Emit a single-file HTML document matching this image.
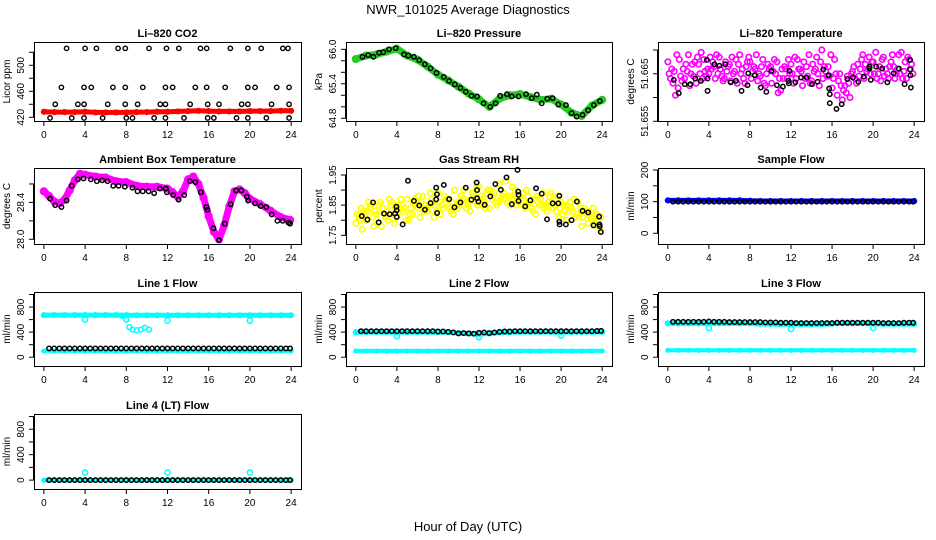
<!DOCTYPE html>
<html><head><meta charset="utf-8"><title>NWR_101025 Average Diagnostics</title>
<style>
html,body{margin:0;padding:0;background:#fff;}
svg{display:block;font-family:"Liberation Sans",Arial,sans-serif;}
</style></head>
<body>
<svg id="chart" width="936" height="540" viewBox="0 0 936 540" xmlns="http://www.w3.org/2000/svg">
<rect x="0" y="0" width="936" height="540" fill="#fff"/>
<text x="468" y="14" text-anchor="middle" font-size="13">NWR_101025  Average Diagnostics</text>
<text x="468" y="531" text-anchor="middle" font-size="13">Hour of Day (UTC)</text>
</svg>
<script>
// ---------- shared hours ----------
const blackHours = [0.5,1,1.5,2,2.5,3,3.5,4,4.5,5,5.5,6,6.5,7,7.5,8,8.5,9,9.5,10,10.5,11,11.5,12,12.5,13,13.5,14,14.5,15,15.5,16,16.5,17,17.5,18,18.5,19,19.5,20,20.5,21,21.5,22,22.5,23,23.5,23.9];
const bandHours = [0,1,2,3,4,5,6,7,8,9,10,11,12,13,14,15,16,17,18,19,20,21,22,23,24];
const cloudHours = [0,0.5,1,1.5,2,2.5,3,3.5,4,4.5,5,5.5,6,6.5,7,7.5,8,8.5,9,9.5,10,10.5,11,11.5,12,12.5,13,13.5,14,14.5,15,15.5,16,16.5,17,17.5,18,18.5,19,19.5,20,20.5,21,21.5,22,22.5,23,23.5];
const xTicks = [0,4,8,12,16,20,24];

// ---------- CO2 ----------
const co2Hours = [2.2,4.0,5.1,7.2,7.9,10.2,11.9,13.1,15.2,15.8,18.1,19.8,21.1,23.2,23.7, 1.7,3.9,4.6,6.7,7.9,9.6,11.8,12.5,14.7,15.8,17.6,19.8,20.5,22.6,23.8, 1.1,3.3,3.9,6.2,7.9,9.1,11.3,11.8,14.2,15.9,17.0,19.2,19.8,22.1,23.8, 0.6,2.7,3.9,5.7,8.0,8.6,10.7,11.8,13.6,15.9,16.5,18.7,19.8,21.6,23.8];
const co2Black = [526,526,526,526,526,526,526,526,526,526,526,526,526,526,526, 466,466,466,466,466,466,466,466,466,466,466,466,466,466,466, 440,440,440,440,440,440,440,440,440,440,440,440,440,440,440, 419,419,419,419,419,419,419,419,419,419,419,419,419,419,419];
const co2Red = [428.5,428,428,428,428.5,427.5,427.5,427.5,427.5,428,428,428.5,428.5,429,429.5,430,429.5,429,429,429,429.5,429.5,429.5,430,430];

// ---------- Pressure ----------
const presHours = [0.65,1.2,1.71,2.26,2.68,3.23,3.88,4.69,5.11,5.66,6.18,6.73,7.28,7.86,8.57,9.09,9.64,10.19,10.71,11.26,11.81,12.45,13.1,13.62,14.07,14.72,15.2,15.85,16.59,17.14,17.63,18.11,18.66,19.18,19.73,20.47,21.02,21.51,22.09,22.64,23.19,23.77];
const presBlack = [65.87,65.90,65.87,65.94,65.95,66.0,66.02,65.91,65.89,65.87,65.81,65.74,65.67,65.59,65.52,65.45,65.39,65.33,65.26,65.19,65.18,65.06,65.0,65.06,65.19,65.22,65.18,65.18,65.22,65.15,65.21,65.06,65.14,65.15,65.04,65.03,64.89,64.83,64.86,64.94,65.03,65.10];
const presGreen = [65.83,65.89,65.91,65.96,66.01,65.89,65.82,65.70,65.56,65.46,65.35,65.23,65.13,65.00,65.14,65.20,65.22,65.17,65.12,65.14,65.04,64.90,64.84,65.02,65.12];

// ---------- Li-820 Temperature ----------
const tempHours = [0.58,1.06,1.64,2.19,2.67,3.22,3.80,3.87,3.87,4.54,5.03,5.6,6.12,6.64,7.18,7.83,7.76,8.47,9.05,9.6,10.08,10.63,11.21,11.76,11.79,11.85,12.43,12.98,13.53,14.05,14.59,15.14,15.66,15.72,15.78,15.78,16.43,16.94,17.49,18.04,18.56,19.1,19.65,19.65,19.78,20.3,20.88,21.39,22.0,22.52,23.07,23.61,23.61,23.64,23.68];
const tempBlack = [51.6637,51.6609,51.6628,51.6628,51.6640,51.6635,51.6679,51.6640,51.6614,51.6670,51.6667,51.6670,51.6632,51.6635,51.6614,51.6651,51.6626,51.6647,51.6621,51.6612,51.6656,51.6626,51.6623,51.6635,51.6630,51.6656,51.6632,51.6642,51.6642,51.6628,51.6633,51.6659,51.6647,51.6619,51.6607,51.6588,51.6576,51.6586,51.6639,51.6642,51.6633,51.6644,51.6661,51.6665,51.6637,51.6665,51.6661,51.6632,51.6651,51.6661,51.6628,51.6679,51.6659,51.6647,51.6621];
const tempCloudA = [51.6675,51.6630,51.6620,51.6660,51.6690,51.6645,51.6670,51.6680,51.6650,51.6665,51.6685,51.6640,51.6670,51.6655,51.6690,51.6630,51.6675,51.6660,51.6645,51.6625,51.6665,51.6650,51.6615,51.6660,51.6670,51.6640,51.6655,51.6665,51.6635,51.6685,51.6700,51.6645,51.6620,51.6605,51.6595,51.6645,51.6655,51.6670,51.6690,51.6660,51.6675,51.6650,51.6685,51.6640,51.6665,51.6690,51.6655,51.6680];
const tempCloudB = [51.6650,51.6655,51.6680,51.6640,51.6625,51.6675,51.6650,51.6655,51.6685,51.6640,51.6660,51.6675,51.6635,51.6680,51.6650,51.6665,51.6640,51.6690,51.6665,51.6650,51.6630,51.6675,51.6660,51.6640,51.6650,51.6680,51.6625,51.6645,51.6670,51.6650,51.6640,51.6665,51.6640,51.6635,51.6615,51.6630,51.6665,51.6645,51.6640,51.6685,51.6650,51.6665,51.6645,51.6665,51.6640,51.6650,51.6675,51.6660];
const tempCloudC = [51.6640,51.6605,51.6645,51.6670,51.6650,51.6630,51.6695,51.6645,51.6660,51.6690,51.6645,51.6655,51.6685,51.6630,51.6660,51.6675,51.6655,51.6635,51.6680,51.6670,51.6655,51.6610,51.6640,51.6680,51.6630,51.6660,51.6675,51.6690,51.6655,51.6625,51.6665,51.6645,51.6680,51.6650,51.6625,51.6600,51.6640,51.6660,51.6670,51.6650,51.6695,51.6635,51.6660,51.6675,51.6650,51.6695,51.6640,51.6670];
const tempCloudD = [51.6660,51.6690,51.6635,51.6655,51.6670,51.6685,51.6640,51.6660,51.6675,51.6650,51.6635,51.6665,51.6650,51.6670,51.6640,51.6685,51.6665,51.6650,51.6630,51.6660,51.6680,51.6640,51.6665,51.6650,51.6685,51.6660,51.6640,51.6630,51.6660,51.6675,51.6655,51.6690,51.6650,51.6625,51.6610,51.6650,51.6630,51.6680,51.6655,51.6675,51.6640,51.6680,51.6650,51.6690,51.6660,51.6640,51.6685,51.6650];

// ---------- Ambient Box Temperature ----------
const ambHours = [0.6,1.1,1.7,2.2,2.7,3.3,3.85,4.56,5.14,5.66,6.18,6.73,7.25,7.86,8.6,9.09,9.6,10.16,10.7,11.26,11.84,11.94,12.55,13.07,13.62,14.17,14.7,15.23,15.78,15.88,16.46,17.0,17.56,18.14,18.66,19.18,19.7,19.83,20.5,21.05,21.6,22.12,22.67,23.19,23.74,23.9];
const ambBlack = [28.44,28.37,28.35,28.42,28.58,28.65,28.66,28.65,28.63,28.64,28.63,28.58,28.58,28.57,28.56,28.52,28.52,28.52,28.50,28.55,28.55,28.51,28.48,28.43,28.48,28.63,28.62,28.51,28.35,28.32,28.12,27.99,28.17,28.38,28.53,28.53,28.46,28.42,28.39,28.36,28.35,28.27,28.20,28.20,28.18,28.17];
const ambBandHours = [0,0.5,1,1.5,2,2.5,3,3.5,4,5,6,7,8,9,10,11,12,12.5,13,13.5,14,14.5,15,15.5,16,16.5,17,17.5,18,18.5,19,19.5,20,21,22,23,23.9];
const ambMagenta = [28.52,28.47,28.41,28.39,28.43,28.53,28.64,28.71,28.70,28.68,28.67,28.63,28.62,28.58,28.57,28.57,28.55,28.51,28.46,28.52,28.65,28.68,28.60,28.45,28.25,28.08,28.0,28.15,28.36,28.52,28.54,28.50,28.44,28.38,28.31,28.24,28.21];

// ---------- Gas Stream RH ----------
const rhHours = [0.58,1.13,1.68,2.23,2.75,3.3,3.82,3.95,3.98,3.98,4.56,5.08,5.66,6.18,6.73,7.28,7.83,7.83,7.9,7.92,8.57,9.09,9.61,10.19,10.71,11.26,11.77,11.81,11.81,11.94,12.55,13.1,13.59,14.13,14.68,15.2,15.75,15.82,15.85,15.85,16.5,17.01,17.56,18.11,18.63,19.18,19.73,19.83,19.83,19.86,20.47,21.02,21.54,22.09,22.64,23.16,23.71,23.74,23.77,23.87];
const rhBlack = [1.814,1.802,1.859,1.793,1.822,1.82,1.822,1.845,1.833,1.811,1.786,1.931,1.864,1.849,1.835,1.857,1.869,1.908,1.886,1.824,1.917,1.87,1.843,1.859,1.908,1.868,1.925,1.9,1.873,1.862,1.851,1.879,1.92,1.901,1.942,1.853,1.967,1.895,1.884,1.864,1.846,1.866,1.906,1.888,1.803,1.856,1.856,1.881,1.795,1.786,1.786,1.8,1.862,1.831,1.826,1.783,1.812,1.786,1.78,1.761];
const rhCloudA = [1.79,1.84,1.80,1.85,1.82,1.78,1.83,1.86,1.81,1.85,1.87,1.82,1.84,1.88,1.83,1.86,1.89,1.84,1.87,1.82,1.86,1.90,1.85,1.88,1.91,1.86,1.84,1.89,1.92,1.87,1.85,1.90,1.88,1.84,1.86,1.82,1.87,1.85,1.89,1.83,1.86,1.80,1.84,1.82,1.78,1.83,1.80,1.82];
const rhCloudB = [1.82,1.77,1.83,1.81,1.79,1.84,1.80,1.82,1.85,1.83,1.80,1.86,1.88,1.83,1.85,1.81,1.86,1.88,1.84,1.90,1.85,1.87,1.83,1.86,1.88,1.84,1.90,1.86,1.87,1.93,1.88,1.85,1.87,1.90,1.84,1.88,1.85,1.83,1.86,1.88,1.82,1.85,1.83,1.86,1.81,1.79,1.84,1.80];
const rhCloudC = [1.81,1.83,1.86,1.78,1.85,1.82,1.87,1.79,1.83,1.84,1.82,1.87,1.81,1.85,1.89,1.85,1.82,1.86,1.83,1.85,1.88,1.84,1.87,1.91,1.85,1.89,1.87,1.85,1.88,1.86,1.91,1.87,1.85,1.88,1.83,1.86,1.89,1.86,1.84,1.81,1.85,1.83,1.87,1.81,1.84,1.82,1.79,1.77];
const rhCloudD = [1.80,1.82,1.84,1.83,1.86,1.81,1.85,1.84,1.87,1.80,1.84,1.85,1.86,1.84,1.87,1.83,1.85,1.87,1.86,1.84,1.87,1.86,1.89,1.85,1.87,1.90,1.88,1.86,1.89,1.88,1.87,1.86,1.89,1.86,1.87,1.85,1.84,1.88,1.85,1.84,1.83,1.86,1.81,1.84,1.83,1.81,1.82,1.81];

// ---------- Sample Flow ----------
const sampleBlack = [100,100,100,100,100,100,100,100,100,100,100,100,100,100,100,100,100,100,100,100,100,100,100,100,100,100,100,100,100,100,100,100,100,100,100,100,100,100,100,100,100,100,100,100,100,100,100,100];
const sampleBlue = [104,104,104,104,104,104,104,104,103,102,102,102,102,102,102,102,102,102,102,102,102,102,102,102,102];

// ---------- Line flows ----------
const outlierHours = [4,12,20];
const line1Black = [140,140,140,140,140,140,140,140,140,140,140,140,140,140,140,140,140,140,140,140,140,140,140,140,140,140,140,140,140,140,140,140,140,140,140,140,140,140,140,140,140,140,140,140,140,140,140,140];
const line1CyanHigh = [672,672,672,672,672,672,672,672,670,668,668,668,668,668,668,668,668,668,668,668,668,668,668,668,668];
const line1CyanLow = [100,100,100,100,100,100,100,100,100,100,100,100,100,100,100,100,100,100,100,100,100,100,100,100,100];
const line1DipHours = [7.6,8,8.3,8.6,9,9.4,9.8,10.2];
const line1Dip = [660,600,480,440,430,440,470,440];
const line1Outliers = [600,583,583];
const line2Black = [415,415,415,415,415,415,415,415,415,415,415,415,415,415,415,410,410,405,395,380,385,380,375,390,395,385,395,405,410,410,415,415,415,415,415,415,415,415,415,415,415,415,415,415,415,415,418,420];
const line2CyanHigh = [400,400,400,400,400,400,400,400,400,398,385,378,372,378,392,400,402,402,402,402,402,402,402,402,402];
const line2CyanLow = [100,100,100,100,100,100,100,100,100,100,100,100,100,100,100,100,100,100,100,100,100,100,100,100,100];
const line2Outliers = [334,318,344];
const line3Black = [565,565,565,565,565,565,565,570,565,565,565,560,560,560,560,560,560,560,555,555,555,550,550,550,545,545,545,545,545,545,545,545,550,550,550,550,550,550,550,550,550,545,545,545,545,550,550,550];
const line3CyanHigh = [540,540,540,540,540,540,540,540,540,530,530,525,525,525,525,525,535,540,540,540,535,530,530,530,530];
const line3CyanLow = [110,110,110,110,110,110,110,110,110,110,110,110,110,110,110,110,110,110,110,110,110,110,110,110,110];
const line3Outliers = [466,450,466];
const line4Black = [0,0,0,0,0,0,0,0,0,0,0,0,0,0,0,0,0,0,0,0,0,0,0,0,0,0,0,0,0,0,0,0,0,0,0,0,0,0,0,0,0,0,0,0,0,0,0,0];
const line4Cyan = [0,0,0,0,0,0,0,0,0,0,0,0,0,0,0,0,0,0,0,0,0,0,0,0,0];
const line4Outliers = [120,120,120];

// ---------- rendering ----------
const NS = 'http://www.w3.org/2000/svg';
const svg = document.getElementById('chart');
function mk(tag, attrs, parent){
  const e = document.createElementNS(NS, tag);
  for (const k in attrs) e.setAttribute(k, attrs[k]);
  (parent||svg).appendChild(e);
  return e;
}
const cols = [{l:34,r:301},{l:346,r:612},{l:658,r:924}];
const rows = [{t:42,b:121},{t:168,b:244},{t:292,b:366},{t:414,b:489}];
const XMIN = -0.96, XMAX = 24.96;

function panel(key, title, ylab, col, row, ylim, yticks, ylabels){
  const c = cols[col], r = rows[row];
  const g = mk('g', {});
  
  
  const sx = h => c.l + (h - XMIN) / (XMAX - XMIN) * (c.r - c.l);
  const sy = v => r.b - (v - ylim[0]) / (ylim[1] - ylim[0]) * (r.b - r.t);
  const t = mk('text', {x:(c.l+c.r)/2, y:r.t-5, 'text-anchor':'middle', 'font-size':11, 'font-weight':'bold'}, g);
  t.textContent = title;
  
  
  const yl = mk('text', {x:c.l-24, y:(r.t+r.b)/2, 'text-anchor':'middle', 'font-size':10, transform:'rotate(-90 '+(c.l-24)+' '+((r.t+r.b)/2)+')'}, g);
  yl.textContent = ylab;
  
  
  const xa = mk('g', {stroke:'#000','stroke-width':1}, g);
  
  
  mk('line', {x1:sx(xTicks[0]), x2:sx(xTicks[xTicks.length-1]), y1:r.b+0.5, y2:r.b+0.5}, xa);
  xTicks.forEach(h => {
    mk('line', {x1:sx(h), x2:sx(h), y1:r.b, y2:r.b+5}, xa);
    const tl = mk('text', {x:sx(h), y:r.b+17, 'text-anchor':'middle', 'font-size':10, stroke:'none'}, xa);
    tl.textContent = h;
    
    
  });
  const ya = mk('g', {stroke:'#000','stroke-width':1}, g);
  
  
  mk('line', {x1:c.l-0.5, x2:c.l-0.5, y1:sy(yticks[0]), y2:sy(yticks[yticks.length-1])}, ya);
  yticks.forEach(v => {
    mk('line', {x1:c.l-5, x2:c.l, y1:sy(v), y2:sy(v)}, ya);
  });
  ylabels.forEach(v => {
    const x = c.l - 10, y = sy(Number(v));
    const tl = mk('text', {x:x, y:y, 'text-anchor':'middle', 'font-size':10, stroke:'none', transform:'rotate(-90 '+x+' '+y+')'}, ya);
    tl.textContent = String(v);
    
    
  });
  const plot = mk('g', {}, g);
  
  
  const box = mk('rect', {x:c.l+0.5, y:r.t+0.5, width:c.r-c.l, height:r.b-r.t, fill:'none', stroke:'#000', 'stroke-width':1}, g);
  
  
  return {sx, sy, plot, key};
}
function points(p, hours, vals, color, name, rad, sw, dx){
  dx = dx || 0;
  vals.forEach((v, i) => {
    const e = mk('circle', {cx:p.sx(hours[i]+dx), cy:p.sy(v), r:rad||2, fill:'none', stroke:color, 'stroke-width':sw||1.4}, p.plot);
    
    
  });
}
function band(p, hours, vals, color, width, name){
  const pts = vals.map((v, i) => p.sx(hours[i]).toFixed(1) + ',' + p.sy(v).toFixed(1)).join(' ');
  const e = mk('polyline', {points:pts, fill:'none', stroke:color, 'stroke-width':width, 'stroke-linejoin':'round', 'stroke-linecap':'round'}, p.plot);
  
  
  points(p, hours, vals, color, name, width/2, 1.2);
}

const flowTicks = [0,200,400,600,800,1000], flowLabels = [0,400,800], flowLim = [-140,1040];

// CO2
let p = panel('co2', 'Li\u2013820 CO2', 'Licor ppm', 0, 0, [414.3,535.8], [420,440,460,480,500,520], [420,460,500]);
band(p, bandHours, co2Red, '#ff0000', 5, 'co2-red');
points(p, co2Hours, co2Black, '#000', 'co2-black', 2.2, 1.4);

// Pressure
p = panel('pressure', 'Li\u2013820 Pressure', 'kPa', 1, 0, [64.753,66.127], [64.8,65.0,65.2,65.4,65.6,65.8,66.0], ['64.8','65.4','66.0']);
band(p, bandHours, presGreen, '#22cc22', 7, 'pressure-green');
points(p, presHours, presBlack, '#000', 'pressure-black', 2.2, 1.5);

// Li-820 Temperature
p = panel('li820-temp', 'Li\u2013820 Temperature', 'degrees C', 2, 0, [51.65506,51.67168], [51.655,51.66,51.665,51.67], ['51.655','51.665']);
points(p, cloudHours, tempCloudA, '#ff00ff', 'temp-magenta', 2.7, 1.7, 0);
points(p, cloudHours, tempCloudB, '#ff00ff', 'temp-magenta', 2.7, 1.7, 0.12);
points(p, cloudHours, tempCloudC, '#ff00ff', 'temp-magenta', 2.7, 1.7, 0.25);
points(p, cloudHours, tempCloudD, '#ff00ff', 'temp-magenta', 2.7, 1.7, 0.38);
points(p, tempHours, tempBlack, '#000', 'temp-black', 2.2, 1.5);

// Ambient Box Temperature
p = panel('ambient-temp', 'Ambient Box Temperature', 'degrees C', 0, 1, [27.949,28.773], [28.0,28.2,28.4,28.6], ['28.0','28.4']);
band(p, ambBandHours, ambMagenta, '#ff00ff', 7, 'ambient-magenta');
points(p, ambHours, ambBlack, '#000', 'ambient-black', 2.2, 1.5);

// Gas Stream RH
p = panel('gas-rh', 'Gas Stream RH', 'percent', 1, 1, [1.7212,1.9732], [1.75,1.80,1.85,1.90,1.95], ['1.75','1.85','1.95']);
points(p, cloudHours, rhCloudA, '#ffff00', 'rh-yellow', 2.7, 1.7, 0);
points(p, cloudHours, rhCloudB, '#ffff00', 'rh-yellow', 2.7, 1.7, 0.12);
points(p, cloudHours, rhCloudC, '#ffff00', 'rh-yellow', 2.7, 1.7, 0.25);
points(p, cloudHours, rhCloudD, '#ffff00', 'rh-yellow', 2.7, 1.7, 0.38);
points(p, rhHours, rhBlack, '#000', 'rh-black', 2.2, 1.5);

// Sample Flow
p = panel('sample-flow', 'Sample Flow', 'ml/min', 2, 1, [-33.8,206.3], [0,50,100,150,200], [0,100,200]);
band(p, bandHours, sampleBlue, '#0000ff', 5, 'sample-blue');
points(p, blackHours, sampleBlack, '#000', 'sample-black', 2.2, 1.5);

// Line 1
p = panel('line1', 'Line 1 Flow', 'ml/min', 0, 2, flowLim, flowTicks, flowLabels);
band(p, bandHours, line1CyanHigh, '#00ffff', 5, 'line1-cyan-high');
band(p, bandHours, line1CyanLow, '#00ffff', 4, 'line1-cyan-low');
points(p, line1DipHours, line1Dip, '#00ffff', 'line1-dip', 2.4, 1.5);
points(p, outlierHours, line1Outliers, '#00ffff', 'line1-outlier', 2.6, 1.5);
points(p, blackHours, line1Black, '#000', 'line1-black', 2.2, 1.5);

// Line 2
p = panel('line2', 'Line 2 Flow', 'ml/min', 1, 2, flowLim, flowTicks, flowLabels);
band(p, bandHours, line2CyanHigh, '#00ffff', 5, 'line2-cyan-high');
band(p, bandHours, line2CyanLow, '#00ffff', 4, 'line2-cyan-low');
points(p, outlierHours, line2Outliers, '#00ffff', 'line2-outlier', 2.6, 1.5);
points(p, blackHours, line2Black, '#000', 'line2-black', 2.2, 1.5);

// Line 3
p = panel('line3', 'Line 3 Flow', 'ml/min', 2, 2, flowLim, flowTicks, flowLabels);
band(p, bandHours, line3CyanHigh, '#00ffff', 5, 'line3-cyan-high');
band(p, bandHours, line3CyanLow, '#00ffff', 4, 'line3-cyan-low');
points(p, outlierHours, line3Outliers, '#00ffff', 'line3-outlier', 2.6, 1.5);
points(p, blackHours, line3Black, '#000', 'line3-black', 2.2, 1.5);

// Line 4
p = panel('line4', 'Line 4 (LT) Flow', 'ml/min', 0, 3, flowLim, flowTicks, flowLabels);
band(p, bandHours, line4Cyan, '#00ffff', 4, 'line4-cyan');
points(p, outlierHours, line4Outliers, '#00ffff', 'line4-outlier', 2.6, 1.5);
points(p, blackHours, line4Black, '#000', 'line4-black', 2.2, 1.5);
</script>
</body></html>
